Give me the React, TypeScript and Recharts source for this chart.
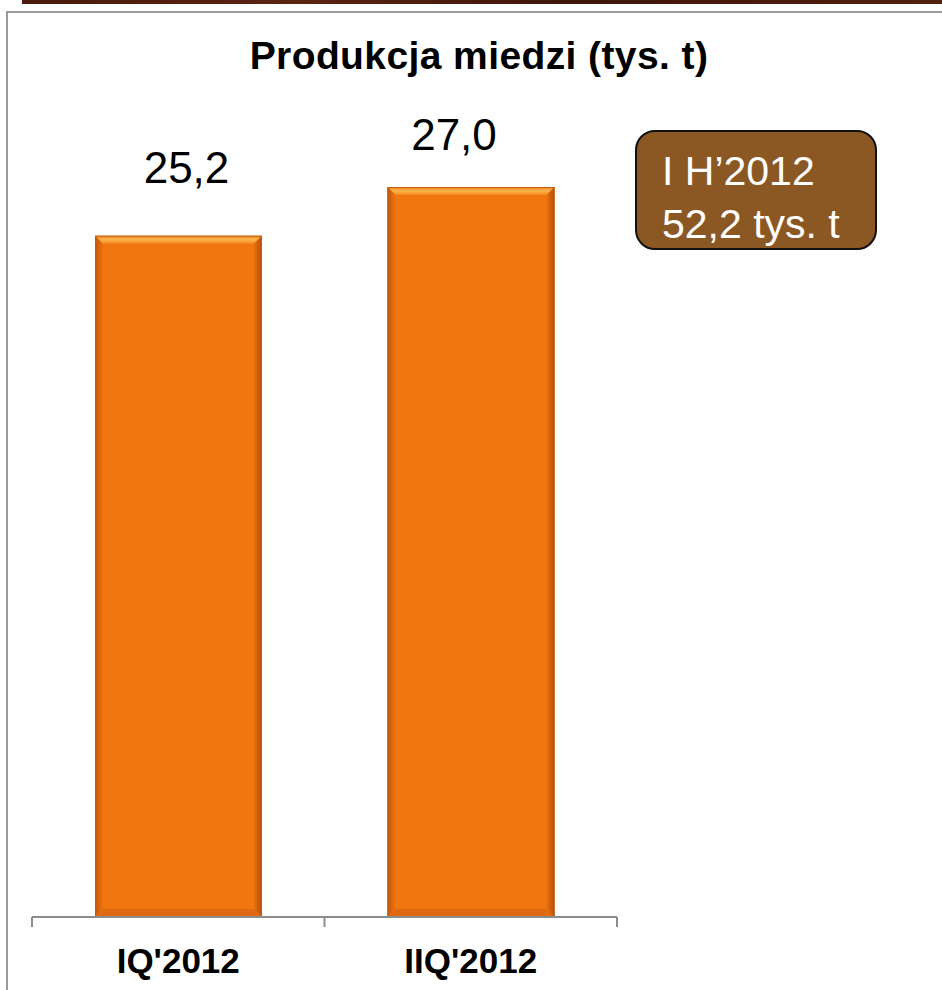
import { BarChart, Bar, XAxis, YAxis, LabelList } from 'recharts';

const CATEGORIES = ["IQ'2012", "IIQ'2012"];
const PRODUCTION = [25.2, 27.0];
const Y_DOMAIN = [0, 30];
const TITLE = 'Produkcja miedzi (tys. t)';
const SUMMARY_LINES = ['I H\u20192012', '52,2 tys. t'];

// small nudges so the value labels sit where the original put them
const LABEL_DX = [8, -17];
const LABEL_DY = [-53, -37];

const data = CATEGORIES.map((name, i) => ({ name, value: PRODUCTION[i] }));

const W = 942;
const H = 990;
const MARGIN = { top: 106, right: 325, bottom: 0, left: 32 };
const BAND = (W - MARGIN.left - MARGIN.right) / CATEGORIES.length;
const FONT = '"Liberation Sans", Arial, sans-serif';

const BevelBar = (props: any) => {
    const { x, y, width, height } = props;
    const b = 8;
    return (
        <g>
            <rect x={x} y={y} width={width} height={height} fill="#F2760F" />
            <polygon
                points={`${x},${y} ${x + width},${y} ${x + width - b},${y + b} ${x + b},${y + b}`}
                fill="url(#bevelTop)"
            />
            <polygon
                points={`${x},${y} ${x + b},${y + b} ${x + b},${y + height - b} ${x},${y + height}`}
                fill="url(#bevelLeft)"
            />
            <polygon
                points={`${x + width},${y} ${x + width - b},${y + b} ${x + width - b},${y + height - b} ${x + width},${y + height}`}
                fill="url(#bevelRight)"
            />
            <polygon
                points={`${x},${y + height} ${x + b},${y + height - b} ${x + width - b},${y + height - b} ${x + width},${y + height}`}
                fill="#DE6A12"
            />
            <rect x={x + 0.5} y={y + 0.5} width={width - 1} height={height - 1} fill="none" stroke="#C45C0C" strokeWidth={1} />
        </g>
    );
};

const CategoryTick = (props: any) => {
    const { x, y, payload, index } = props;
    const half = BAND / 2;
    const isLast = index === CATEGORIES.length - 1;
    return (
        <g>
            <line x1={x - half} y1={y} x2={x - half} y2={y + 10} stroke="#8C8C8C" strokeWidth={2} />
            {isLast && <line x1={x + half} y1={y} x2={x + half} y2={y + 10} stroke="#8C8C8C" strokeWidth={2} />}
            <text x={x} y={y + 56} textAnchor="middle" fontFamily={FONT} fontSize={35} fontWeight="bold" fill="#000">
                {payload.value}
            </text>
        </g>
    );
};

const ValueLabel = (props: any) => {
    const { x, y, width, value, index } = props;
    return (
        <text
            x={x + width / 2 + LABEL_DX[index]}
            y={y + LABEL_DY[index]}
            textAnchor="middle"
            fontFamily={FONT}
            fontSize={44}
            fill="#000"
        >
            {Number(value).toFixed(1).replace('.', ',')}
        </text>
    );
};

export default function App() {
    return (
        <div style={{ position: 'fixed', left: 0, top: 0, width: W, height: H, background: '#fff', overflow: 'hidden' }}>
            <div style={{ position: 'absolute', left: 22, top: 0, width: W - 22, height: 4, background: 'linear-gradient(90deg, #4a1a0c, #5a2410 30%, #3e150a 60%, #52200e)' }} />
            <div style={{ position: 'absolute', left: 6, top: 11, width: W, height: H, borderTop: '2px solid #9a9a9a', borderLeft: '2px solid #9a9a9a' }} />

            <div style={{ position: 'absolute', left: 0, top: 0 }}>
                <BarChart width={W} height={H} data={data} margin={MARGIN}>
                    <defs>
                        <linearGradient id="bevelTop" x1="0" y1="0" x2="0" y2="1">
                            <stop offset="0%" stopColor="#F58A25" />
                            <stop offset="50%" stopColor="#FBB54C" />
                            <stop offset="100%" stopColor="#F5861C" />
                        </linearGradient>
                        <linearGradient id="bevelLeft" x1="0" y1="0" x2="1" y2="0">
                            <stop offset="0%" stopColor="#C2570B" />
                            <stop offset="100%" stopColor="#EE7310" />
                        </linearGradient>
                        <linearGradient id="bevelRight" x1="1" y1="0" x2="0" y2="0">
                            <stop offset="0%" stopColor="#B24F0A" />
                            <stop offset="100%" stopColor="#EA700F" />
                        </linearGradient>
                    </defs>
                    <XAxis
                        dataKey="name"
                        height={73}
                        axisLine={{ stroke: '#8C8C8C', strokeWidth: 2 }}
                        tickLine={false}
                        tickSize={0}
                        tickMargin={0}
                        tick={<CategoryTick />}
                        interval={0}
                    />
                    <YAxis hide domain={Y_DOMAIN} width={0} />
                    <Bar dataKey="value" barSize={167} shape={<BevelBar />} isAnimationActive={false}>
                        <LabelList dataKey="value" content={<ValueLabel />} />
                    </Bar>
                </BarChart>
            </div>

            <div style={{ position: 'absolute', left: 0, top: 39, width: 958, textAlign: 'center', fontFamily: FONT, fontWeight: 'bold', fontSize: 39, lineHeight: '34px', letterSpacing: 0.4, color: '#000' }}>
                {TITLE}
            </div>

            <div
                style={{
                    position: 'absolute', left: 635, top: 130, width: 242, height: 120, boxSizing: 'border-box',
                    border: '2px solid #111', borderRadius: 20, background: '#8B5823',
                    padding: '13px 0 0 25px', fontFamily: FONT, fontSize: 41, lineHeight: '53px', color: '#fff',
                }}
            >
                {SUMMARY_LINES.map(l => <div key={l}>{l}</div>)}
            </div>
        </div>
    );
}
